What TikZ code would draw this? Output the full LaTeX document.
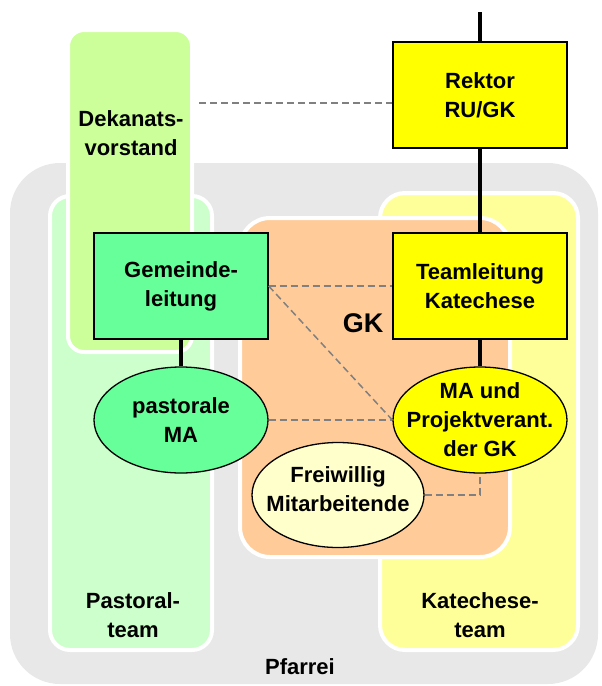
\documentclass[tikz,border=0pt]{standalone}
\usepackage{fontspec}
\setmainfont{Liberation Sans}
\usetikzlibrary{shapes.geometric}
\definecolor{pfgray}{HTML}{E8E8E8}
\definecolor{pastgreen}{HTML}{CCFFCC}
\definecolor{dekgreen}{HTML}{CCFF99}
\definecolor{katyellow}{HTML}{FFFF99}
\definecolor{gkorange}{HTML}{FFCC99}
\definecolor{boxgreen}{HTML}{66FF99}
\definecolor{boxyellow}{HTML}{FFFF00}
\definecolor{freiyellow}{HTML}{FFFFCC}
\definecolor{dashgray}{HTML}{808080}
\begin{document}
\begin{tikzpicture}[x=1pt,y=-1pt,
 region/.style={draw=white,line width=4pt},
 lbl/.style={font=\fontsize{22}{29}\selectfont\bfseries,align=center,inner sep=0pt},
 unitbox/.style={lbl,draw=black,line width=1.3pt,minimum width=174pt,minimum height=106pt},
 unitell/.style={ellipse,draw=black,line width=1.3pt,inner sep=0pt,minimum width=174pt,minimum height=106pt},
 link/.style={line width=3.5pt},
 dashlink/.style={draw=dashgray,line width=1.5pt,dash pattern=on 7pt off 4pt}]
\useasboundingbox (0,0) rectangle (602,686);
% regions
\fill[pfgray, rounded corners=50pt] (10,163) rectangle (598,684);
\filldraw[region, fill=pastgreen, rounded corners=20pt] (50,196) rectangle (212,650);
\filldraw[region, fill=dekgreen, rounded corners=16pt] (68,30) rectangle (192,352);
\filldraw[region, fill=katyellow, rounded corners=25pt] (380,193) rectangle (578,650);
\filldraw[region, fill=gkorange, rounded corners=30pt] (240,218) rectangle (510,557);
% region labels
\node[lbl] (dek) at (131,133) {Dekanats-\\vorstand};
\node[lbl] (pas) at (133,615) {Pastoral-\\team};
\node[lbl] (kat) at (480,615) {Katechese-\\team};
\node[lbl] (pf) at (300,667) {Pfarrei};
\node[lbl,font=\fontsize{27}{30}\selectfont\bfseries] (gk) at (363,323) {GK};
% units
\node[unitbox,fill=boxyellow] (rek) at (480,95) {Rektor\\RU/GK};
\node[unitbox,fill=boxyellow] (team) at (480,286) {Teamleitung\\Katechese};
\node[unitbox,fill=boxgreen] (gem) at (181,286) {Gemeinde-\\leitung};
\node[unitell,fill=boxgreen,label={[lbl]center:pastorale\\MA}] (pma) at (181,420) {};
\node[unitell,fill=boxyellow,label={[lbl]center:MA und\\Projektverant.\\der GK}] (ma) at (480,420) {};
\node[unitell,fill=freiyellow,minimum width=172pt,minimum height=105pt,
      label={[lbl,yshift=6pt]center:Freiwillig\\Mitarbeitende}] (frei) at (338,495) {};
\coordinate (top) at (480,12);
\coordinate (dekr) at (199,103);
% connectors
\draw[dashlink] (dekr) -- (dekr -| rek.west);
\draw[dashlink] (gem.east) -- (team.west);
\draw[dashlink] (gem.east) -- (ma.west);
\draw[dashlink] (pma.east) -- (ma.west);
\draw[dashlink] (frei.east) -- (frei.east -| ma.south) -- (ma.south);
\draw[link] (top) -- (rek.north);
\draw[link] (rek.south) -- (team.north);
\draw[link] (team.south) -- (ma.north);
\draw[link] (gem.south) -- (pma.north);
\end{tikzpicture}
\end{document}
